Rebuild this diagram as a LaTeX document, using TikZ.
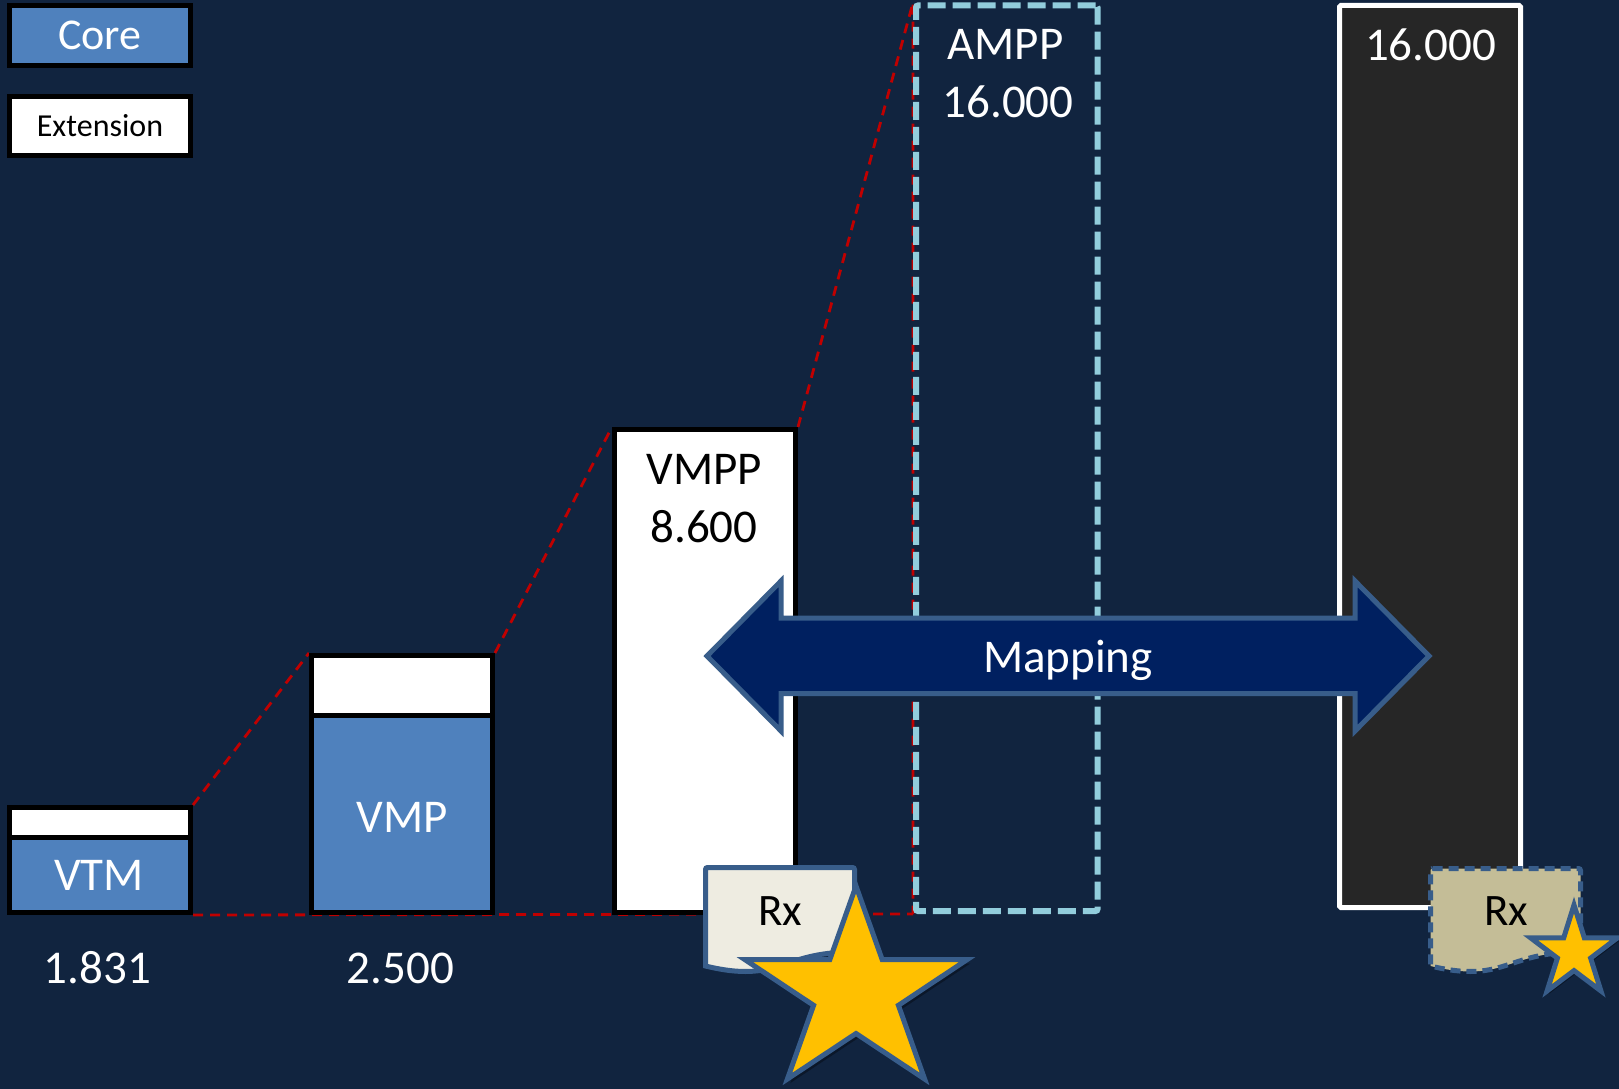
\documentclass[tikz,border=0pt]{standalone}
\usepackage{fontspec}
\setmainfont{Carlito}
\definecolor{bgc}{RGB}{17,36,63}
\definecolor{coreblue}{RGB}{79,129,189}
\definecolor{ltblue}{RGB}{146,205,220}
\definecolor{redl}{RGB}{192,0,0}
\definecolor{arrfill}{RGB}{0,32,96}
\definecolor{steel}{RGB}{56,93,138}
\definecolor{rxlight}{RGB}{238,236,225}
\definecolor{rxdark}{RGB}{196,189,151}
\definecolor{gold}{RGB}{255,192,0}
\definecolor{darkbox}{RGB}{38,38,38}
\pgfdeclarelayer{bglayer}
\pgfdeclarelayer{redlayer}
\pgfsetlayers{bglayer,redlayer,main}
\begin{document}
\begin{tikzpicture}[x=1pt,y=-1pt,
  blk/.style={draw=black, line width=5pt, inner sep=0pt, minimum width=181pt},
  lbl/.style={inner sep=0pt, anchor=base, font=\fontsize{47}{50}\selectfont},
  reddash/.style={draw=redl, line width=2.8pt, dash pattern=on 10pt off 7pt},
  starsty/.style={fill=gold, draw=steel, line width=5pt, line join=miter},
  shadowsty/.style={fill=black, opacity=0.35}]
\begin{pgfonlayer}{bglayer}
\fill[bgc] (0,0) rectangle (1619,1089);
\end{pgfonlayer}
\useasboundingbox (0,0) rectangle (1619,1089);

% legend
\node[blk, fill=coreblue, minimum height=60pt] (core) at (100,35.5) {};
\node[blk, fill=white, minimum height=59pt] (ext) at (100,126) {};
\node[lbl, text=white, font=\fontsize{44}{48}\selectfont] (tcore) at (100,50) {Core};
\node[lbl, text=black, font=\fontsize{32}{36}\selectfont] (text) at (100,137) {Extension};

% VTM
\node[blk, fill=white, minimum height=30pt] (vtmw) at (100,822.5) {};
\node[blk, fill=coreblue, minimum height=75pt] (vtmb) at (100,875) {};
% VMP
\node[blk, fill=white, minimum height=60pt] (vmpw) at (402,685.5) {};
\node[blk, fill=coreblue, minimum height=197pt] (vmpb) at (402,814) {};
% VMPP
\node[blk, fill=white, minimum height=483pt] (vmpp) at (705,671) {};
% AMPP
\node[draw=ltblue, line width=6pt, dash pattern=on 18pt off 7pt, rounded corners=2pt,
      inner sep=0pt, minimum width=181.5pt, minimum height=905.5pt] (ampp) at (1006.75,458.25) {};
% right box
\node[draw=white, fill=darkbox, line width=5pt, inner sep=0pt, rounded corners=1.5pt,
      minimum width=181pt, minimum height=902pt] (full) at (1430,456.5) {};

% red dashed outline
\begin{pgfonlayer}{redlayer}
\draw[reddash] (vtmw.north east) -- (vmpw.north west);
\draw[reddash] (vmpw.north east) -- (vmpp.north west);
\draw[reddash] (vmpp.north east) -- (ampp.north west) -- (ampp.south west);
\draw[reddash] (vtmb.south east) -- (ampp.south west);
\end{pgfonlayer}

% mapping arrow
\draw[fill=arrfill, draw=steel, line width=5pt, line join=miter]
  (707,656) -- (781,581) -- (781,618) -- (1355,618) -- (1355,581) -- (1429,656)
  -- (1355,731) -- (1355,693.5) -- (781,693.5) -- (781,731) -- cycle;
\node[lbl, text=white] (tmap) at (1068,672) {Mapping};

% left Rx document
\draw[fill=rxlight, draw=steel, line width=5pt, rounded corners=2pt]
  (705.5,867.5) -- (854.5,867.5) -- (854.5,952)
  [sharp corners] .. controls (780,952) and (780,984) .. (705.5,966) [rounded corners=2pt] -- cycle;
\node[lbl, text=black, font=\fontsize{45}{48}\selectfont] (trx1) at (780,925) {Rx};
% big star
\fill[shadowsty] ([shift={(3,4)}]856,886) -- ([shift={(3,4)}]882.2,959.7) -- ([shift={(3,4)}]967,959.7)
  -- ([shift={(3,4)}]898.4,1005.3) -- ([shift={(3,4)}]924.6,1079) -- ([shift={(3,4)}]856,1033.5)
  -- ([shift={(3,4)}]787.4,1079) -- ([shift={(3,4)}]813.6,1005.3) -- ([shift={(3,4)}]745,959.7)
  -- ([shift={(3,4)}]829.8,959.7) -- cycle;
\draw[starsty] (856,886) -- (882.2,959.7) -- (967,959.7) -- (898.4,1005.3) -- (924.6,1079)
  -- (856,1033.5) -- (787.4,1079) -- (813.6,1005.3) -- (745,959.7) -- (829.8,959.7) -- cycle;

% right Rx document
\draw[fill=rxdark, draw=steel, line width=5pt, dash pattern=on 10pt off 6pt, rounded corners=2pt]
  (1430.5,868.5) -- (1580.5,868.5) -- (1580.5,952)
  [sharp corners] .. controls (1505,952) and (1505,984) .. (1430.5,966) [rounded corners=2pt] -- cycle;
\node[lbl, text=black, font=\fontsize{45}{48}\selectfont] (trx2) at (1506.5,925) {Rx};
% small star
\fill[shadowsty] ([shift={(2,3)}]1574,905) -- ([shift={(2,3)}]1584.3,937.8) -- ([shift={(2,3)}]1617.5,937.8)
  -- ([shift={(2,3)}]1590.6,958.1) -- ([shift={(2,3)}]1600.9,990.9) -- ([shift={(2,3)}]1574,970.6)
  -- ([shift={(2,3)}]1547.1,990.9) -- ([shift={(2,3)}]1557.4,958.1) -- ([shift={(2,3)}]1530.5,937.8)
  -- ([shift={(2,3)}]1563.7,937.8) -- cycle;
\draw[starsty] (1574,905) -- (1584.3,937.8) -- (1617.5,937.8) -- (1590.6,958.1) -- (1600.9,990.9)
  -- (1574,970.6) -- (1547.1,990.9) -- (1557.4,958.1) -- (1530.5,937.8) -- (1563.7,937.8) -- cycle;

% labels
\node[lbl, text=white] (tvtm) at (99,890) {VTM};
\node[lbl, text=white] (tvtmn) at (97.5,983) {1.831};
\node[lbl, text=white] (tvmp) at (402,832) {VMP};
\node[lbl, text=white] (tvmpn) at (400.5,983) {2.500};
\node[lbl, text=black] (tvmpp) at (704.5,484) {VMPP};
\node[lbl, text=black] (tvmppn) at (704,542) {8.600};
\node[lbl, text=white] (tampp) at (1005.5,60) {AMPP};
\node[lbl, text=white] (tamppn) at (1008,118) {16.000};
\node[lbl, text=white] (tfull) at (1430.5,61) {16.000};
\end{tikzpicture}
\end{document}
